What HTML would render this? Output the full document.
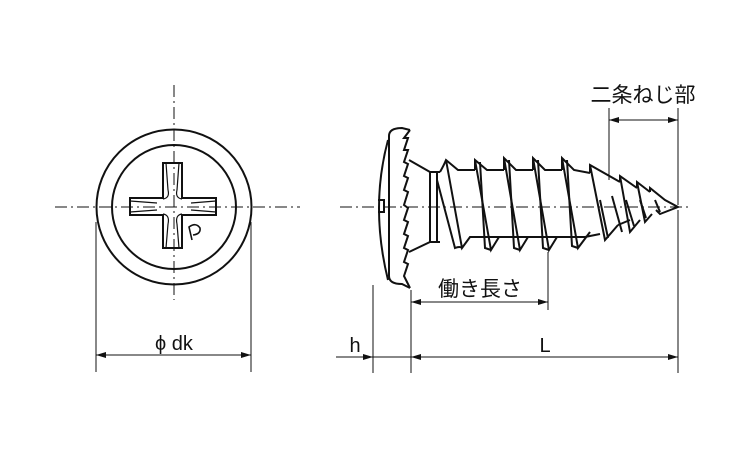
<!DOCTYPE html><html><head><style>body{margin:0;background:#fff}svg{display:block}text{font-family:"Liberation Sans","Noto Sans CJK JP",sans-serif;fill:#111}</style></head><body>
<svg width="750" height="450" viewBox="0 0 750 450" xmlns="http://www.w3.org/2000/svg">
<defs><marker id="a" viewBox="0 0 10 6" refX="10" refY="3" markerWidth="10" markerHeight="6" orient="auto-start-reverse" markerUnits="userSpaceOnUse"><path d="M0,0L10,3L0,6z" fill="#111"/></marker></defs>
<g stroke="#111" fill="none">
<g stroke-width="1" stroke-dasharray="12,4,2,4">
<line x1="174" y1="85" x2="174" y2="300"/>
<line x1="55" y1="207" x2="300" y2="207"/>
<line x1="340" y1="207" x2="690" y2="207"/>
</g>
<g stroke-width="2">
<circle cx="174" cy="207" r="77.5"/>
<circle cx="174" cy="207" r="62"/>
<path d="M163,163H182V198H216V215H182V248H163V215H130V198H163Z"/>
</g>
<g stroke-width="1.2">
<path d="M166,163L168,190M179,163L177,190M166,248L168,224M179,248L177,224M130,201L157,203M130,212L157,210M216,201L191,203M216,212L191,210"/>
<path d="M168,190Q170,198 163,199M177,190Q175,198 182,199M168,224Q170,215 163,214M177,224Q175,215 182,214"/>
</g>
<g stroke-width="1.6"><path d="M192,240L189,227Q196,222 200,228Q201,234 193,235"/></g>
<g stroke-width="2">
<path d="M410,130L402,128Q389,128 389,136V276Q389,284 402,284L410,288"/>
<path d="M410,130L404,138L408,138L404,150L408,150L404,162L408,164L404,176L408,178L404,190L408,192L404,205L408,208L404,220L408,222L404,234L408,236L404,248L408,250L404,262L408,264L404,276L410,288"/>
<path d="M388,140Q370,207 388,280"/>
<path d="M378,200h6v12h-6"/>
<path d="M409,160L430,172H440M409,252L430,242H440"/>
<path d="M430,172V242M437,172V242"/>
<path d="M440,172Q444,165 446,160L458,170H475"/>
<path d="M446,160L462,248L470,237H502"/>
<path d="M437,180L455,248Q460,246 462,248"/>
<path d="M475,170L475,160L487,170H504"/>
<path d="M475,160L491,250L499,237H531"/>
<path d="M480,162L485,248L491,250"/>
<path d="M504,170L504,158L516,170H533"/>
<path d="M504,158L520,250L528,237H560"/>
<path d="M509,160L514,248L520,250"/>
<path d="M533,170L533,158L545,170H562"/>
<path d="M533,158L549,250L557,237H585"/>
<path d="M538,160L543,248L549,250"/>
<path d="M562,170L562,158L574,170L590,173"/>
<path d="M562,158L578,248L590,232"/>
<path d="M567,160L572,246L578,248"/>
<path d="M590,173L590,165L620,182"/>
<path d="M590,165L605,240L618,225"/>
<path d="M620,182L620,176L637,188"/>
<path d="M620,176L630,232L640,220"/>
<path d="M637,188L637,182L650,192"/>
<path d="M637,182L645,222L652,214"/>
<path d="M650,192L650,188L665,200L678,207L660,214L656,210"/>
<path d="M600,200L608,238M612,196L622,232M626,200L634,226M640,200L646,218M655,200L660,212"/>
<path d="M585,237L600,234M618,225L630,220"/>
</g>
<g stroke-width="1">
<line x1="96" y1="222" x2="96" y2="372"/>
<line x1="251" y1="222" x2="251" y2="372"/>
<line x1="96" y1="355" x2="251" y2="355" marker-start="url(#a)" marker-end="url(#a)"/>
<line x1="373" y1="285" x2="373" y2="373"/>
<line x1="411" y1="290" x2="411" y2="373"/>
<line x1="678" y1="210" x2="678" y2="373"/>
<line x1="678" y1="108" x2="678" y2="205"/>
<line x1="609" y1="108" x2="609" y2="180"/>
<line x1="548" y1="252" x2="548" y2="310"/>
<line x1="336" y1="357" x2="373" y2="357" marker-end="url(#a)"/>
<line x1="373" y1="357" x2="411" y2="357"/>
<line x1="411" y1="357" x2="678" y2="357" marker-start="url(#a)" marker-end="url(#a)"/>
<line x1="411" y1="302" x2="548" y2="302" marker-start="url(#a)" marker-end="url(#a)"/>
<line x1="609" y1="120" x2="678" y2="120" marker-start="url(#a)" marker-end="url(#a)"/>
</g>
</g>
<text x="174" y="350" font-size="20" text-anchor="middle">ϕ dk</text>
<text x="355" y="352" font-size="20" text-anchor="middle">h</text>
<text x="545" y="352" font-size="20" text-anchor="middle">L</text>
<text x="480" y="296" font-size="21" text-anchor="middle">働き長さ</text>
<text x="643" y="102" font-size="21" text-anchor="middle">二条ねじ部</text>
</svg>
</body></html>
